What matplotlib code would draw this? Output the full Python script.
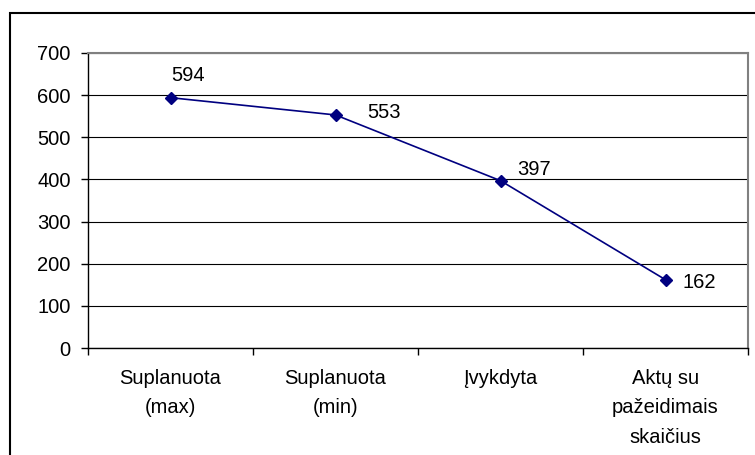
import matplotlib.pyplot as plt
from matplotlib.patches import Rectangle

kategorijos = ['Suplanuota\n(max)', 'Suplanuota\n(min)', 'Įvykdyta', 'Aktų su\npažeidimais\nskaičius']
reiksmes = [594, 553, 397, 162]
y_ticks = [0, 100, 200, 300, 400, 500, 600, 700]
# etikečių poslinkis taškais (x, y)
etik_posl = [(0.5, 16), (23, 1.5), (12, 8), (12, -2)]

plt.rcParams['font.family'] = ['Liberation Sans', 'DejaVu Sans']

fig = plt.figure(figsize=(7.55, 4.55), dpi=100)
ax = fig.add_axes([88 / 755, 1 - 348 / 455, 660 / 755, 295 / 455])

# išorinis rėmelis
fig.patches.append(Rectangle((10 / 755, -0.1), 1.0, 1 - 13 / 455 + 0.1,
                             transform=fig.transFigure, fill=False,
                             edgecolor='black', linewidth=1.5))

x = list(range(len(reiksmes)))
ax.plot(x, reiksmes, color='#000080', linewidth=1.2, marker='D',
        markersize=6.5, markerfacecolor='#000080', zorder=3)

for xi, v, (dx, dy) in zip(x, reiksmes, etik_posl):
    ax.annotate(str(v), (xi, v), xytext=(dx, dy), textcoords='offset points',
                ha='left', va='center', fontsize=14.5)

ax.set_xlim(-0.5, 3.5)
ax.set_ylim(0, 700)
ax.set_yticks(y_ticks)
ax.yaxis.grid(True, color='black', linewidth=0.8)
ax.set_axisbelow(True)

ax.set_xticks(x)
ax.set_xticklabels(kategorijos, linespacing=1.7)
ax.set_xticks([-0.5, 0.5, 1.5, 2.5, 3.5], minor=True)
ax.tick_params(axis='x', which='major', length=0, pad=15, labelsize=14.5)
ax.tick_params(axis='x', which='minor', length=5, width=1, direction='out')
ax.tick_params(axis='y', length=5, width=1, pad=7.5, labelsize=14.5)

for s in ['top', 'right']:
    ax.spines[s].set_color('#808080')
    ax.spines[s].set_linewidth(1.5)
for s in ['left', 'bottom']:
    ax.spines[s].set_color('black')
    ax.spines[s].set_linewidth(1.0)

fig.savefig('out.png', dpi=100)
